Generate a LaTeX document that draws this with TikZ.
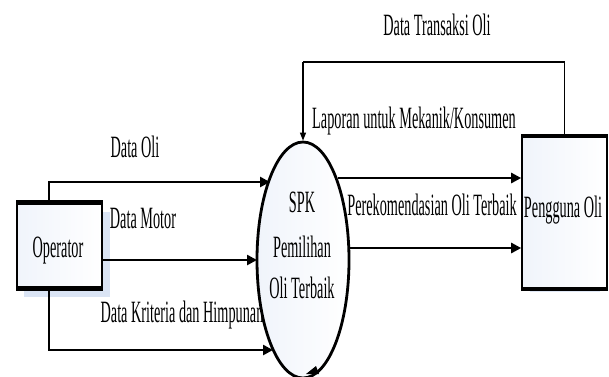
\documentclass[tikz,border=0pt]{standalone}
\usepackage{fontspec}
\setmainfont{Liberation Serif}[FakeStretch=0.46]
\usetikzlibrary{shapes.geometric,arrows.meta,calc}
\definecolor{boxfill}{HTML}{F0F4FB}
\definecolor{shadowc}{HTML}{CBD9F0}
\begin{document}
\begin{tikzpicture}[x=1pt,y=-1pt,
  lbl/.style={font=\fontsize{31}{34}\selectfont, inner sep=0pt, anchor=base},
  entity/.style={draw, line width=1.6pt, left color=boxfill, right color=white, inner sep=0pt},
  flow/.style={line width=2.6pt, -{Triangle[length=10pt,width=10pt]}},
  thinflow/.style={line width=1.3pt, -{Triangle[length=8pt,width=6pt]}}]
\useasboundingbox (0,0) rectangle (609,376);
% shadows
\fill[shadowc, opacity=0.7] (24,212) rectangle (110,297);
\fill[shadowc, opacity=0.6] (530,145) rectangle (600,292);
% entities
\node[entity, minimum width=85pt, minimum height=85pt] (op) at (59.5,245.5) {};
\node[lbl] at (58,257) {Operator};
\draw[line width=5pt] (op.north west) -- (op.north east);
\draw[line width=5pt] (op.south west) -- (op.south east);
\node[entity, minimum width=85pt, minimum height=151pt] (pg) at (564.5,212.5) {};
\node[lbl] (pgt) at (563,217) {Pengguna Oli};
\draw[line width=4.5pt] (pg.north west) -- (pg.north east);
\draw[line width=4.5pt] (pg.south west) -- (pg.south east);
% process
\node[ellipse, draw, line width=2.8pt, inner sep=0pt, minimum width=92pt, minimum height=236pt,
      left color=boxfill, right color=white] (sp) at (303,260) {};
\node[lbl] at (302,212) {SPK};
\node[lbl] at (302,257) {Pemilihan};
\node[lbl] at (302,298) {Oli Terbaik};
% coordinates on the process border
\coordinate (a1) at (270,182);
\coordinate (a2) at (257,260);
\coordinate (a3) at (273,350);
\coordinate (b1) at (338,178);
\coordinate (b2) at (348,248);
\coordinate (t1) at (303,62);
% flows from Operator
\draw[flow] ([xshift=-10.5pt]op.north) |- (a1);
\draw[flow] (op.east |- a2) -- (a2);
\draw[flow] ([xshift=-10.5pt]op.south) |- (a3);
% flows to Pengguna
\draw[flow] (b1) -- (pg.west |- b1);
\draw[flow] (b2) -- (pg.west |- b2);
% top flow
\draw[line width=1.3pt] (pg.north) -- (pg.north |- t1);
\draw[line width=2.6pt] (pg.north |- t1) -- (t1);
\draw[thinflow] (t1) -- (sp.north);
% small arrowhead at bottom
\fill (316,366) -- (306,374) -- (319,374) -- cycle;
% labels
\node[lbl] at (135,157) {Data Oli};
\node[lbl] at (143,228) {Data Motor};
\node[lbl] at (182,322) {Data Kriteria dan Himpunan};
\node[lbl] at (432,215) {Perekomendasian Oli Terbaik};
\node[lbl, anchor=base west] at (312,128) {Laporan untuk Mekanik/Konsumen};
\node[lbl] at (437,35) {Data Transaksi Oli};
\end{tikzpicture}
\end{document}
